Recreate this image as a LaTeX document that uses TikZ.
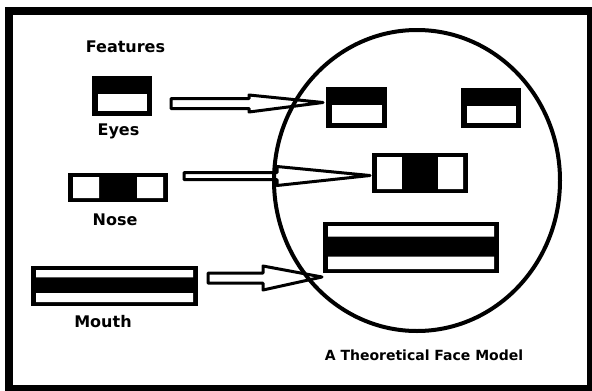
\documentclass[tikz,border=0pt]{standalone}
\usepackage{fontspec}
\setmainfont{DejaVu Sans}
\usetikzlibrary{calc}
\usetikzlibrary{shapes.geometric}

\tikzset{
  label text/.style={anchor=base, inner sep=0pt, font=\fontsize{16}{19}\selectfont\bfseries},
  eyebox/.style={rectangle, fill=black, inner sep=0pt, minimum width=60pt, minimum height=40pt,
    path picture={\fill[white] let \p1=(path picture bounding box.south west), \p2=(path picture bounding box.north east) in
      (\x1+6pt,\y1+5pt) rectangle (\x2-5pt,\y2-18pt);}},
  nosebox/.style={rectangle, fill=black, inner sep=0pt,
    path picture={\fill[white] let \p1=(path picture bounding box.south west), \p2=(path picture bounding box.north east) in
      (\x1+5pt,\y1+4pt) rectangle ({\x1+0.31*(\x2-\x1)},\y2-4pt)
      ({\x1+0.69*(\x2-\x1)},\y1+4pt) rectangle (\x2-5pt,\y2-4pt);}},
  mouthbox/.style={rectangle, fill=black, inner sep=0pt,
    path picture={\fill[white] let \p1=(path picture bounding box.south west), \p2=(path picture bounding box.north east) in
      (\x1+5pt,\y1+4pt) rectangle (\x2-5pt,{\y1+0.32*(\y2-\y1)})
      (\x1+5pt,{\y1+0.715*(\y2-\y1)}) rectangle (\x2-5pt,\y2-4pt);}},
  arrowline/.style={draw=black, fill=white, line width=3pt, line join=round}
}

% hollow block arrow: tail, tip, head length, shaft half width, head half width
\newcommand{\hollowarrow}[5]{%
  \draw[arrowline] let \p1=(#1), \p2=(#2) in
    (\x1,\y1+#4) -- (\x2-#3,\y1+#4) -- (\x2-#3,\y1+#5) -- (\p2)
    -- (\x2-#3,\y1-#5) -- (\x2-#3,\y1-#4) -- (\x1,\y1-#4) -- cycle;}

\begin{document}
\begin{tikzpicture}[x=1pt,y=-1pt]
\useasboundingbox (0,0) rectangle (592,391);
\fill[white] (0,0) rectangle (592,391);
\draw[line width=8pt] (8.5,11) rectangle (591,389);

% features on the left
\node[label text] (featTitle) at (125.5,52.5) {Features};
\node[eyebox] (eyeF) at (122,96) {};
\node[label text] (eyeLabel) at (118.5,135) {Eyes};
\node[nosebox, minimum width=100pt, minimum height=29pt] (noseF) at (118,187.5) {};
\node[label text] (noseLabel) at (115,225.5) {Nose};
\node[mouthbox, minimum width=167pt, minimum height=40pt] (mouthF) at (114.5,286) {};
\node[label text] (mouthLabel) at (103,327) {Mouth};

% features in the face
\node[eyebox, minimum width=61pt, minimum height=41pt] (eyeA) at (356.5,107.5) {};
\node[eyebox] (eyeB) at (491,108) {};
\node[nosebox, minimum width=96pt, minimum height=40pt] (noseA) at (420,173) {};
\node[mouthbox, minimum width=176pt, minimum height=51pt] (mouthA) at (411,247.5) {};

% arrows
\coordinate (eyeTail) at (171,103.5);
\coordinate (eyeTip) at (323,102.5);
\coordinate (noseTail) at (184,176);
\coordinate (noseTip) at (370,175.5);
\coordinate (mouthTail) at (208,278);
\coordinate (mouthTip) at (322,277);
\hollowarrow{eyeTail}{eyeTip}{74pt}{5pt}{8.5pt}
\hollowarrow{noseTail}{noseTip}{93pt}{3.5pt}{9.5pt}
\hollowarrow{mouthTail}{mouthTip}{59pt}{5pt}{12pt}

% the face
\node[ellipse, draw, line width=4pt, inner sep=0pt, minimum width=286pt, minimum height=301pt] (face) at (417,180.5) {};
\node[label text, font=\fontsize{14}{17}\selectfont\bfseries] (faceLabel) at (424,360) {A Theoretical Face Model};
\end{tikzpicture}
\end{document}
